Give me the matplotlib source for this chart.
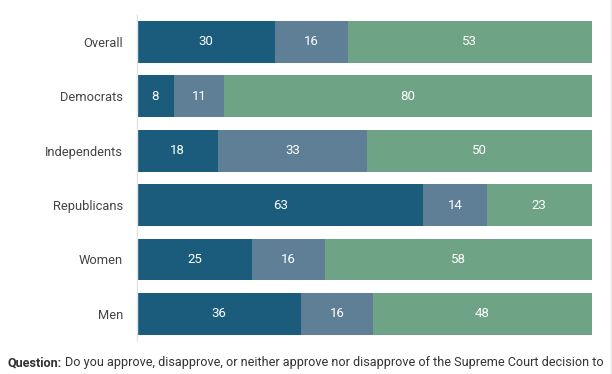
import matplotlib.pyplot as plt
import numpy as np
from matplotlib.lines import Line2D

categories = ["Overall", "Democrats", "Independents", "Republicans", "Women", "Men"]
approve = [30, 8, 18, 63, 25, 36]
neither = [16, 11, 33, 14, 16, 16]
disapprove = [53, 80, 50, 23, 58, 48]
series = [approve, neither, disapprove]
colors = ["#1b5b7b", "#5e7f96", "#6ea386"]

plt.rcParams['font.family'] = ['Roboto', 'DejaVu Sans']

fig = plt.figure(figsize=(6.12, 3.74), dpi=100)
ax = fig.add_axes([137/612, 1-341/374, (591.5-137)/612, (341-14.8)/374])

y = np.arange(len(categories))
data = np.array(series, dtype=float)
totals = data.sum(axis=0)
frac = data / totals * 100
left = np.zeros(len(categories))
for vals, fr, c in zip(series, frac, colors):
    ax.barh(y, fr, left=left, height=0.77, color=c, edgecolor='none')
    for yi, (v, f, l) in enumerate(zip(vals, fr, left)):
        ax.text(l + f/2, yi, str(v), ha='center', va='center', color='white', fontsize=9.5)
    left = left + fr

ax.set_xlim(0, 100)
ax.set_ylim(5.5, -0.5)
ax.set_yticks(y)
ax.set_yticklabels(categories, fontsize=9.3, color='#444444')
ax.tick_params(axis='y', length=0, pad=10)
ax.set_xticks([])
for s in ['top', 'right', 'bottom']:
    ax.spines[s].set_visible(False)
ax.spines['left'].set_color('#e3e3e3')
ax.spines['left'].set_linewidth(1)

fig.add_artist(Line2D([611/612, 611/612], [0, 1], color='#e6e6e6', lw=1, transform=fig.transFigure))

fs_q = 9.05
t = fig.text(8/612, 1-366/374, "Question:", fontsize=fs_q, fontweight='bold', color='#333333', va='baseline')
fig.canvas.draw()
bb = t.get_window_extent()
fig.text(bb.x1/612 + 3/612, 1-366/374, "Do you approve, disapprove, or neither approve nor disapprove of the Supreme Court decision to",
         fontsize=fs_q, color='#333333', va='baseline')

fig.savefig("out.png", dpi=100)
